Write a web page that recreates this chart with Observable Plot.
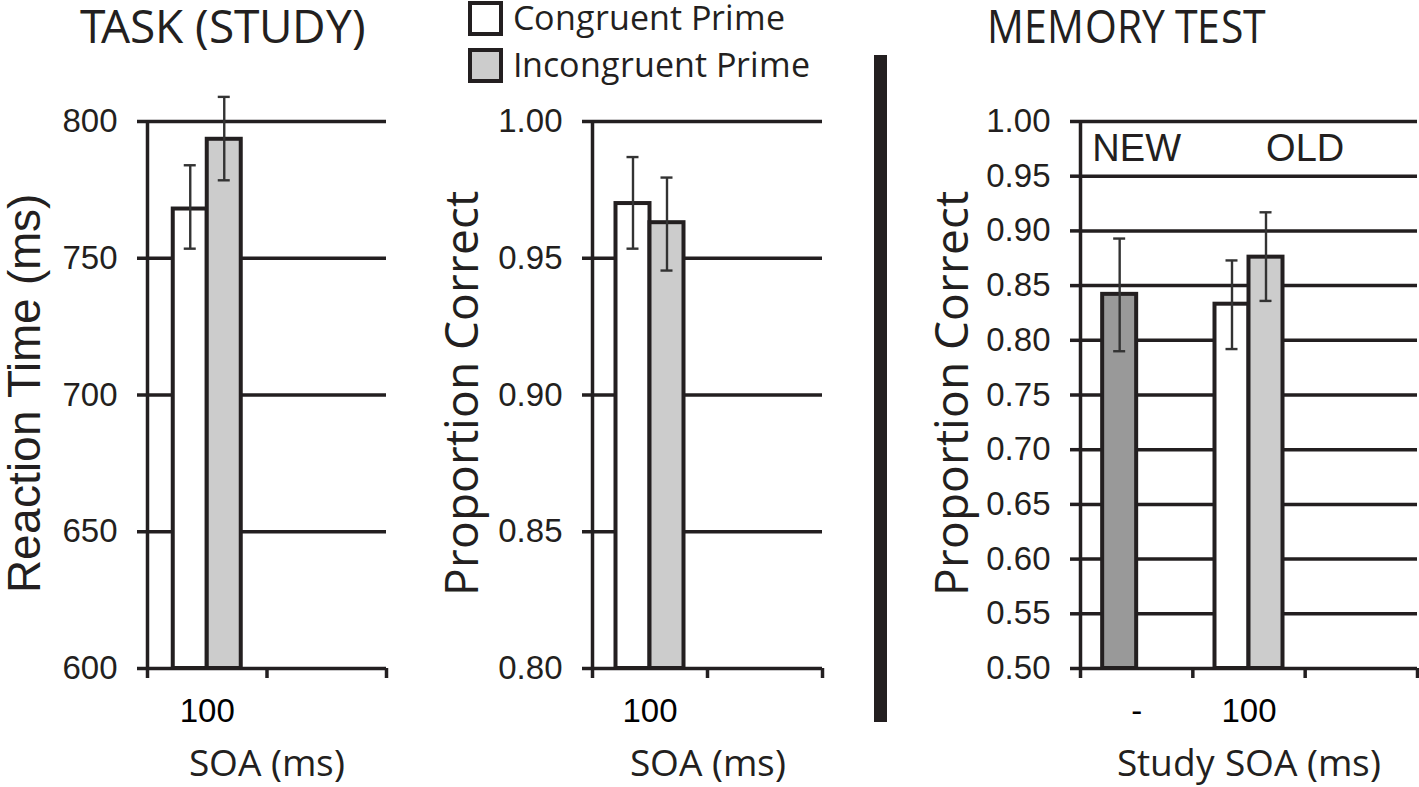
<!DOCTYPE html>
<html><head><meta charset="utf-8">
<script src="https://cdn.jsdelivr.net/npm/d3@7"></script>
<script src="https://cdn.jsdelivr.net/npm/@observablehq/plot@0.6"></script>
<style>
@font-face{font-family:"OpenSansTight";src:local("Open Sans"),local("Open Sans Regular"),local("OpenSans-Regular");ascent-override:80%;descent-override:22%;line-gap-override:0%;}
@font-face{font-family:"LibSansTight";src:local("Liberation Sans"),local("Liberation Sans Regular"),local("LiberationSans");ascent-override:80%;descent-override:21%;line-gap-override:0%;}
body{margin:0;background:#fff;}
#wrap{position:relative;width:1419px;height:787px;overflow:hidden;background:#fff;}
.panel{position:absolute;top:0;}
#overlay{position:absolute;left:0;top:0;pointer-events:none;}
</style></head>
<body><div id="wrap"></div>
<script>
// ---------- data ----------
const titles = ["TASK (STUDY)", "MEMORY TEST"];
const legendSeries = ["Congruent Prime", "Incongruent Prime"];

const taskCategories = ["100", ""];
const taskSeries = ["Congruent Prime", "Incongruent Prime"];
const taskCategoryOf = ["100", "100"];

const rtMean = [768, 793.5];
const rtLow = [753.5, 778.5];
const rtHigh = [784, 809];
const rtTicks = [600, 650, 700, 750, 800];

const accMean = [0.970, 0.963];
const accLow = [0.9535, 0.9455];
const accHigh = [0.987, 0.9795];
const accTicks = [0.80, 0.85, 0.90, 0.95, 1.00];

const memCategories = ["-", "100", ""];
const memSeries = ["New", "Congruent Prime", "Incongruent Prime"];
const memCategoryOf = ["-", "100", "100"];
const memMean = [0.842, 0.833, 0.876];
const memLow = [0.790, 0.792, 0.836];
const memHigh = [0.893, 0.873, 0.917];
const memTicks = [0.50, 0.55, 0.60, 0.65, 0.70, 0.75, 0.80, 0.85, 0.90, 0.95, 1.00];

const groupLabels = ["NEW", "OLD"];
const groupMembers = [["-"], ["100", ""]];

// ---------- styling ----------
const INK = "#231f20";
const seriesFill = {"New": "#999999", "Congruent Prime": "#ffffff", "Incongruent Prime": "#cccccc"};
const barSide = {"New": -1, "Congruent Prime": -1, "Incongruent Prime": 1};
const BW = 34;
const LW = 3.5;
const tickFont = "Liberation Sans, Arial, sans-serif";
const tightArial = "LibSansTight, Liberation Sans, Arial, sans-serif";
const humanFont = "OpenSansTight, Open Sans, sans-serif";

const wrap = document.getElementById("wrap");

function rowsOf(series, cats, mean, low, high) {
  return series.map((s, i) => ({series: s, category: cats[i], mean: mean[i], low: low[i], high: high[i]}));
}

function panel(o) {
  const cats = o.categories, n = cats.length;
  const cx = d => cats.indexOf(d.category) + 0.5;
  const y0 = o.yTicks[0];
  const marks = [
    Plot.gridY(o.yTicks, {stroke: INK, strokeOpacity: 1, strokeWidth: LW}),
    Plot.axisY({ticks: o.yTicks, tickSize: 10, tickPadding: 20, tickFormat: o.yFormat,
      fontSize: 33, fontFamily: tickFont, color: INK, strokeWidth: LW, label: null}),
    Plot.ruleX([0], {stroke: INK, strokeWidth: LW}),
    Plot.axisX({ticks: d3.range(n + 1), tickSize: 10, tickFormat: () => "", color: INK, strokeWidth: LW, label: null}),
    Plot.axisX({ticks: cats.map((c, i) => i + 0.5), tickSize: 0, tickPadding: 30,
      tickFormat: v => cats[Math.floor(v)], fontSize: 33, fontFamily: tickFont, color: "#000", label: null}),
    Plot.text([o.yLabel], {frameAnchor: "left", dx: o.yLabelDx, dy: -2, rotate: -90, lineAnchor: "bottom",
      textAnchor: "middle", fontSize: 46, fontFamily: o.yLabelFont, fill: INK}),
    Plot.text([o.xLabel], {frameAnchor: "bottom", dy: 107, lineAnchor: "bottom",
      fontSize: 37, fontFamily: humanFont, fill: INK})
  ];
  for (const side of [-1, 1]) {
    const data = o.rows.filter(r => barSide[r.series] === side);
    marks.push(
      Plot.rect(data, {x1: cx, x2: cx, y1: () => y0, y2: "mean", fill: "series",
        stroke: INK, strokeWidth: 4, insetLeft: -BW / 2, insetRight: -BW / 2, dx: side * BW / 2}),
      Plot.ruleX(data, {x: cx, y1: "low", y2: "high", dx: side * BW / 2, stroke: "#333", strokeWidth: 2.4}),
      Plot.ruleY(data, {x1: cx, x2: cx, y: "low", dx: side * BW / 2, insetLeft: -6, insetRight: -6, stroke: "#333", strokeWidth: 2.4}),
      Plot.ruleY(data, {x1: cx, x2: cx, y: "high", dx: side * BW / 2, insetLeft: -6, insetRight: -6, stroke: "#333", strokeWidth: 2.4})
    );
  }
  if (o.extra) marks.push(...o.extra(cats));
  const svg = Plot.plot({
    width: o.width, height: 787,
    marginLeft: o.marginLeft, marginRight: o.marginRight, marginTop: 121, marginBottom: 119,
    x: {domain: [0, n]},
    y: {domain: [o.yTicks[0], o.yTicks[o.yTicks.length - 1]]},
    color: {domain: Object.keys(seriesFill), range: Object.values(seriesFill)},
    style: {background: "transparent", overflow: "visible"},
    marks
  });
  svg.classList.add("panel");
  svg.style.left = o.left + "px";
  wrap.appendChild(svg);
}

panel({
  left: 0, width: 400, marginLeft: 147, marginRight: 14,
  categories: taskCategories,
  rows: rowsOf(taskSeries, taskCategoryOf, rtMean, rtLow, rtHigh),
  yTicks: rtTicks, yFormat: d3.format("d"),
  yLabel: "Reaction Time (ms)", yLabelFont: tightArial, yLabelDx: -108,
  xLabel: "SOA (ms)"
});

panel({
  left: 420, width: 420, marginLeft: 172, marginRight: 18,
  categories: taskCategories,
  rows: rowsOf(taskSeries, taskCategoryOf, accMean, accLow, accHigh),
  yTicks: accTicks, yFormat: d3.format(".2f"),
  yLabel: "Proportion Correct", yLabelFont: humanFont, yLabelDx: -115,
  xLabel: "SOA (ms)"
});

panel({
  left: 900, width: 519, marginLeft: 180, marginRight: 2,
  categories: memCategories,
  rows: rowsOf(memSeries, memCategoryOf, memMean, memLow, memHigh),
  yTicks: memTicks, yFormat: d3.format(".2f"),
  yLabel: "Proportion Correct", yLabelFont: humanFont, yLabelDx: -113,
  xLabel: "Study SOA (ms)",
  extra: cats => [
    Plot.text(groupLabels.map((g, i) => ({label: g, x: d3.mean(groupMembers[i], c => cats.indexOf(c) + 0.5)})),
      {x: "x", text: "label", frameAnchor: "top", dy: 39, lineAnchor: "bottom",
       fontSize: 38, fontFamily: tickFont, fill: INK})
  ]
});

// ---------- titles, legend, separator (overlay) ----------
const ov = d3.select(wrap).append("svg")
  .attr("id", "overlay").attr("width", 1419).attr("height", 787);

ov.append("text").attr("x", 223).attr("y", 43).attr("text-anchor", "middle")
  .attr("font-family", humanFont).attr("font-size", 46).attr("fill", INK).text(titles[0]);
ov.append("text").attr("x", 1126).attr("y", 43).attr("text-anchor", "middle")
  .attr("font-family", humanFont).attr("font-size", 46).attr("fill", INK)
  .attr("textLength", 278).attr("lengthAdjust", "spacingAndGlyphs").text(titles[1]);

const leg = ov.selectAll("g.leg").data(legendSeries).join("g")
  .attr("transform", (d, i) => `translate(468,${i * 47})`);
leg.append("rect").attr("x", 2).attr("y", 3).attr("width", 31).attr("height", 31)
  .attr("fill", d => seriesFill[d]).attr("stroke", INK).attr("stroke-width", 4);
leg.append("text").attr("x", 45).attr("y", 30)
  .attr("font-family", humanFont).attr("font-size", 34).attr("fill", INK).text(d => d);

ov.append("rect").attr("x", 874).attr("y", 55).attr("width", 13).attr("height", 667).attr("fill", INK);
</script>
</body></html>
